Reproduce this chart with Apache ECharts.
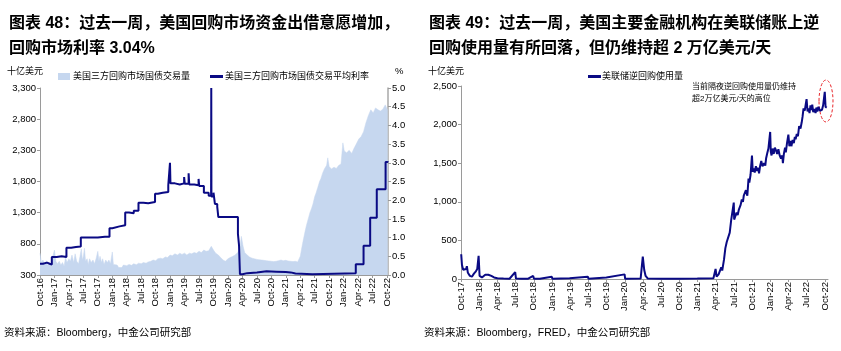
<!DOCTYPE html>
<html>
<head>
<meta charset="utf-8">
<script src="https://cdn.jsdelivr.net/npm/echarts@6/dist/echarts.min.js"></script>
<style>
  html, body { margin: 0; padding: 0; background: #fff; }
  #main { width: 841px; height: 351px; }
</style>
</head>
<body>
<div id="main"></div>
<script>
// 左图：三方回购交易量（十亿美元）
var volume = [
  ['2016-10-01', 650], ['2016-10-10', 500], ['2016-10-20', 540], ['2016-11-01', 470],
  ['2016-11-10', 530], ['2016-11-20', 460], ['2016-12-01', 450], ['2016-12-10', 500],
  ['2016-12-20', 470], ['2017-01-01', 700], ['2017-01-10', 520], ['2017-01-20', 480],
  ['2017-02-01', 520], ['2017-02-10', 460], ['2017-02-20', 500], ['2017-03-01', 440],
  ['2017-03-10', 580], ['2017-03-20', 500], ['2017-04-01', 560], ['2017-04-10', 520],
  ['2017-04-20', 620], ['2017-05-01', 500], ['2017-05-10', 640], ['2017-05-20', 520],
  ['2017-06-01', 480], ['2017-06-10', 600], ['2017-06-18', 720], ['2017-06-25', 540],
  ['2017-07-01', 600], ['2017-07-08', 730], ['2017-07-15', 520], ['2017-07-25', 560],
  ['2017-08-01', 470], ['2017-08-10', 560], ['2017-08-20', 500], ['2017-09-01', 540],
  ['2017-09-10', 480], ['2017-09-20', 560], ['2017-10-01', 680], ['2017-10-08', 520],
  ['2017-10-15', 600], ['2017-10-25', 500], ['2017-11-01', 560], ['2017-11-10', 470],
  ['2017-11-20', 540], ['2017-12-01', 500], ['2017-12-10', 540], ['2017-12-20', 480],
  ['2018-01-01', 670], ['2018-01-08', 470], ['2018-01-20', 440], ['2018-02-01', 460],
  ['2018-02-10', 420], ['2018-02-20', 440], ['2018-03-01', 420], ['2018-03-10', 460],
  ['2018-03-20', 430], ['2018-04-01', 450], ['2018-04-15', 470], ['2018-05-01', 455],
  ['2018-05-15', 480], ['2018-06-01', 465], ['2018-06-15', 490], ['2018-07-01', 480],
  ['2018-07-15', 500], ['2018-08-01', 490], ['2018-08-15', 510], ['2018-09-01', 520],
  ['2018-09-15', 540], ['2018-10-01', 530], ['2018-10-15', 560], ['2018-11-01', 570],
  ['2018-11-15', 560], ['2018-12-01', 590], ['2018-12-15', 580], ['2019-01-01', 620],
  ['2019-01-15', 610], ['2019-02-01', 640], ['2019-02-15', 620], ['2019-03-01', 650],
  ['2019-03-15', 630], ['2019-04-01', 650], ['2019-04-15', 620], ['2019-05-01', 650],
  ['2019-05-15', 640], ['2019-06-01', 660], ['2019-06-15', 650], ['2019-07-01', 680],
  ['2019-07-15', 660], ['2019-08-01', 700], ['2019-08-15', 680], ['2019-09-01', 690],
  ['2019-09-17', 760], ['2019-10-01', 700], ['2019-10-15', 650], ['2019-11-01', 620],
  ['2019-11-15', 580], ['2019-12-01', 540], ['2019-12-15', 520], ['2020-01-01', 560],
  ['2020-01-15', 580], ['2020-02-01', 600], ['2020-02-15', 620], ['2020-03-01', 660],
  ['2020-03-15', 720], ['2020-03-25', 920], ['2020-04-05', 760], ['2020-04-15', 660],
  ['2020-05-01', 620], ['2020-05-15', 590], ['2020-06-01', 570], ['2020-06-15', 560],
  ['2020-07-01', 550], ['2020-07-15', 545], ['2020-08-01', 540], ['2020-08-15', 535],
  ['2020-09-01', 530], ['2020-09-15', 525], ['2020-10-01', 520], ['2020-10-15', 515],
  ['2020-11-01', 520], ['2020-11-15', 530], ['2020-12-01', 540], ['2020-12-15', 530],
  ['2021-01-01', 535], ['2021-01-15', 525], ['2021-02-01', 520], ['2021-02-15', 515],
  ['2021-03-01', 520], ['2021-03-15', 510], ['2021-04-01', 600], ['2021-04-15', 800],
  ['2021-05-01', 1000], ['2021-05-10', 1100], ['2021-05-20', 1080], ['2021-06-01', 1300],
  ['2021-06-10', 1360], ['2021-06-20', 1440], ['2021-07-01', 1560], ['2021-07-10', 1620],
  ['2021-07-20', 1700], ['2021-08-01', 1800], ['2021-08-10', 1850], ['2021-08-20', 1930],
  ['2021-09-01', 2000], ['2021-09-15', 2060], ['2021-09-22', 2180], ['2021-10-01', 2040],
  ['2021-10-15', 2000], ['2021-11-01', 2030], ['2021-11-15', 2010], ['2021-12-01', 2060],
  ['2021-12-15', 2080], ['2021-12-27', 2420], ['2022-01-05', 2290], ['2022-01-20', 2260],
  ['2022-02-05', 2300], ['2022-02-20', 2250], ['2022-03-05', 2330], ['2022-03-20', 2400],
  ['2022-04-05', 2480], ['2022-04-20', 2520], ['2022-05-05', 2600], ['2022-05-20', 2740],
  ['2022-06-05', 2860], ['2022-06-20', 2950], ['2022-07-05', 2900], ['2022-07-20', 2980],
  ['2022-08-05', 2950], ['2022-08-20', 2930], ['2022-09-05', 2960], ['2022-09-20', 3030],
  ['2022-10-05', 2940]
];

// 左图：三方回购平均利率（%）
var rate = [
  ['2016-10-01', 0.30], ['2016-10-20', 0.33], ['2016-11-15', 0.30], ['2016-12-01', 0.28],
  ['2016-12-15', 0.48], ['2017-01-15', 0.50], ['2017-02-15', 0.48], ['2017-03-16', 0.73],
  ['2017-04-15', 0.75], ['2017-05-15', 0.76], ['2017-06-15', 1.00], ['2017-08-01', 1.00],
  ['2017-10-01', 1.02], ['2017-11-15', 1.02], ['2017-12-14', 1.25], ['2018-01-01', 1.30],
  ['2018-02-15', 1.33], ['2018-03-22', 1.67], ['2018-04-15', 1.65], ['2018-05-15', 1.72],
  ['2018-06-14', 1.93], ['2018-07-15', 1.92], ['2018-08-15', 1.95], ['2018-09-27', 2.17],
  ['2018-10-15', 2.20], ['2018-11-15', 2.22], ['2018-12-20', 2.40], ['2018-12-31', 3.00],
  ['2019-01-03', 2.45], ['2019-02-01', 2.42], ['2019-03-01', 2.45], ['2019-03-29', 2.62],
  ['2019-04-02', 2.44], ['2019-04-26', 2.72], ['2019-04-30', 2.42], ['2019-06-01', 2.40],
  ['2019-06-28', 2.57], ['2019-07-02', 2.38], ['2019-08-01', 2.20], ['2019-09-01', 2.12],
  ['2019-09-16', 2.20], ['2019-09-17', 5.00], ['2019-09-18', 2.10], ['2019-10-01', 2.20],
  ['2019-10-10', 1.90], ['2019-10-25', 1.82], ['2019-11-01', 1.55], ['2019-12-31', 1.58],
  ['2020-01-03', 1.55], ['2020-03-03', 1.10], ['2020-03-10', 0.80], ['2020-03-16', 0.02],
  ['2020-04-01', 0.05], ['2020-05-01', 0.07], ['2020-07-01', 0.10], ['2020-09-01', 0.09],
  ['2020-11-01', 0.08], ['2021-01-01', 0.07], ['2021-02-01', 0.04], ['2021-03-01', 0.02],
  ['2021-06-17', 0.05], ['2022-03-17', 0.29], ['2022-05-05', 0.78], ['2022-06-16', 1.53],
  ['2022-07-28', 2.29], ['2022-09-22', 3.02], ['2022-10-05', 3.04]
];

// 右图：美联储隔夜逆回购使用量（十亿美元）
var rrp = [
  ['2017-10-02', 320], ['2017-10-06', 180], ['2017-10-12', 120], ['2017-10-20', 100],
  ['2017-10-27', 130], ['2017-10-31', 165], ['2017-11-05', 80], ['2017-11-15', 40],
  ['2017-11-25', 30], ['2017-12-05', 70], ['2017-12-15', 100], ['2017-12-22', 130],
  ['2017-12-29', 300], ['2018-01-03', 40], ['2018-01-15', 20], ['2018-02-01', 55],
  ['2018-02-15', 55], ['2018-03-01', 40], ['2018-03-15', 20], ['2018-04-01', 10],
  ['2018-05-01', 5], ['2018-06-01', 3], ['2018-06-29', 90], ['2018-07-03', 5],
  ['2018-08-01', 3], ['2018-09-01', 2], ['2018-09-28', 40], ['2018-10-02', 3],
  ['2018-11-01', 2], ['2018-12-31', 30], ['2019-01-03', 2], ['2019-03-29', 10],
  ['2019-04-02', 2], ['2019-06-28', 30], ['2019-07-02', 3], ['2019-09-30', 20],
  ['2019-10-02', 3], ['2019-12-31', 60], ['2020-01-03', 3], ['2020-03-20', 5],
  ['2020-03-31', 290], ['2020-04-07', 120], ['2020-04-14', 40], ['2020-04-25', 5],
  ['2020-06-30', 3], ['2020-09-30', 2], ['2020-12-31', 5], ['2021-03-20', 10],
  ['2021-03-31', 130], ['2021-04-05', 30], ['2021-04-15', 60], ['2021-04-28', 150],
  ['2021-05-03', 110], ['2021-05-12', 250], ['2021-05-19', 400], ['2021-05-26', 480],
  ['2021-06-01', 500], ['2021-06-10', 600], ['2021-06-17', 760], ['2021-06-30', 990],
  ['2021-07-02', 770], ['2021-07-08', 790], ['2021-07-14', 860], ['2021-07-20', 830],
  ['2021-07-26', 900], ['2021-07-30', 920], ['2021-08-04', 960], ['2021-08-10', 1030],
  ['2021-08-16', 1000], ['2021-08-20', 1080], ['2021-08-25', 1060], ['2021-08-31', 1150],
  ['2021-09-07', 1080], ['2021-09-13', 1300], ['2021-09-17', 1250], ['2021-09-23', 1350],
  ['2021-09-30', 1600], ['2021-10-04', 1390], ['2021-10-08', 1430], ['2021-10-14', 1380],
  ['2021-10-20', 1460], ['2021-10-26', 1400], ['2021-11-01', 1440], ['2021-11-05', 1370],
  ['2021-11-10', 1460], ['2021-11-16', 1530], ['2021-11-22', 1460], ['2021-11-30', 1500],
  ['2021-12-06', 1470], ['2021-12-10', 1560], ['2021-12-16', 1630], ['2021-12-22', 1690],
  ['2021-12-31', 1905], ['2022-01-03', 1650], ['2022-01-07', 1600], ['2022-01-12', 1690],
  ['2022-01-18', 1620], ['2022-01-24', 1700], ['2022-01-31', 1660], ['2022-02-04', 1620],
  ['2022-02-10', 1680], ['2022-02-16', 1600], ['2022-02-22', 1560], ['2022-02-28', 1600],
  ['2022-03-03', 1500], ['2022-03-08', 1620], ['2022-03-14', 1700], ['2022-03-18', 1640],
  ['2022-03-24', 1760], ['2022-03-31', 1870], ['2022-04-05', 1720], ['2022-04-11', 1790],
  ['2022-04-15', 1720], ['2022-04-21', 1800], ['2022-04-27', 1760], ['2022-05-02', 1840],
  ['2022-05-06', 1810], ['2022-05-12', 1880], ['2022-05-18', 1850], ['2022-05-24', 1980],
  ['2022-05-31', 1950], ['2022-06-06', 2030], ['2022-06-10', 2100], ['2022-06-15', 2210],
  ['2022-06-21', 2180], ['2022-06-30', 2330], ['2022-07-05', 2170], ['2022-07-11', 2210],
  ['2022-07-15', 2150], ['2022-07-20', 2250], ['2022-07-25', 2190], ['2022-07-29', 2260],
  ['2022-08-03', 2160], ['2022-08-09', 2200], ['2022-08-15', 2150], ['2022-08-19', 2220],
  ['2022-08-24', 2170], ['2022-08-30', 2230], ['2022-09-06', 2180], ['2022-09-12', 2160],
  ['2022-09-16', 2190], ['2022-09-22', 2250], ['2022-09-30', 2425], ['2022-10-04', 2230],
  ['2022-10-10', 2220]
];

var MON = ['Jan', 'Feb', 'Mar', 'Apr', 'May', 'Jun', 'Jul', 'Aug', 'Sep', 'Oct', 'Nov', 'Dec'];
var leftTicks = [], rightTicks = [];
for (var i = 0; i <= 72; i += 3) leftTicks.push(i);
for (var j = 12; j <= 72; j += 3) rightTicks.push(j);

// 日期 -> 自2016年10月起的月份数
function monthIdx(s) {
  var p = s.split('-');
  var y = +p[0], m = +p[1], d = +p[2];
  var dim = new Date(y, m, 0).getDate();
  return (y - 2016) * 12 + (m - 10) + (d - 1) / dim;
}
function toXY(arr) {
  return arr.map(function (r) { return [monthIdx(r[0]), r[1]]; });
}
function monthLabel(v) {
  var t = Math.round(v);
  return MON[(9 + t) % 12] + '-' + (16 + Math.floor((9 + t) / 12));
}
function thousands(v) {
  return String(v).replace(/\B(?=(\d{3})+(?!\d))/g, ',');
}

var FONT = '"Liberation Sans", Arial, "Noto Sans CJK SC", sans-serif';
var NAVY = '#0A0A84';
var AREA = '#C6D7EF';
var AXIS = '#9A9A9A';

var chart = echarts.init(document.getElementById('main'));

function xAxisFor(gridIndex, min, max, ticks) {
  return {
    type: 'value', gridIndex: gridIndex, min: min, max: max,
    splitLine: { show: false },
    axisLine: { lineStyle: { color: AXIS } },
    axisTick: { customValues: ticks, length: 3, lineStyle: { color: AXIS } },
    axisLabel: {
      customValues: ticks, rotate: 90, margin: 3, fontSize: 9.5, color: '#000',
      fontFamily: FONT, formatter: monthLabel
    }
  };
}

var option = {
  animation: false,
  textStyle: { fontFamily: FONT },
  title: [
    {
      left: 4, top: 6,
      text: '图表 48：过去一周，美国回购市场资金出借意愿增加，\n回购市场利率 3.04%',
      textStyle: { fontSize: 16, fontWeight: 'bold', color: '#000', lineHeight: 25, fontFamily: FONT }
    },
    {
      left: 424, top: 6,
      text: '图表 49：过去一周，美国主要金融机构在美联储账上逆\n回购使用量有所回落，但仍维持超 2 万亿美元/天',
      textStyle: { fontSize: 16, fontWeight: 'bold', color: '#000', lineHeight: 25, fontFamily: FONT }
    }
  ],
  legend: [
    {
      left: 53, top: 67, icon: 'rect', itemWidth: 12, itemHeight: 7,
      data: ['美国三方回购市场国债交易量'],
      textStyle: { fontSize: 9, color: '#000', padding: [0, 0, 0, -2] }
    },
    {
      left: 205, top: 67, icon: 'rect', itemWidth: 13, itemHeight: 3,
      data: ['美国三方回购市场国债交易平均利率'],
      textStyle: { fontSize: 9, color: '#000', padding: [0, 0, 0, -3] }
    },
    {
      left: 583, top: 67, icon: 'rect', itemWidth: 13, itemHeight: 3,
      data: ['美联储逆回购使用量'],
      textStyle: { fontSize: 9, color: '#000', padding: [0, 0, 0, -4] }
    }
  ],
  grid: [
    { left: 40, right: 453, top: 88, bottom: 76 },
    { left: 461, right: 13, top: 86, bottom: 72 }
  ],
  xAxis: [
    xAxisFor(0, 0, 72.2, leftTicks),
    xAxisFor(1, 12, 72.5, rightTicks)
  ],
  yAxis: [
    {
      type: 'value', gridIndex: 0, min: 300, max: 3300, interval: 500,
      splitLine: { show: false },
      axisLine: { show: true, lineStyle: { color: AXIS } },
      axisTick: { show: true, length: 3, lineStyle: { color: AXIS } },
      axisLabel: { fontSize: 9.5, color: '#000', margin: 4, formatter: thousands }
    },
    {
      type: 'value', gridIndex: 0, position: 'right', min: 0, max: 5, interval: 0.5,
      splitLine: { show: false },
      axisLine: { show: true, lineStyle: { color: '#A8A8A8', width: 1.5 } },
      axisTick: { show: true, length: 3, lineStyle: { color: AXIS } },
      axisLabel: { fontSize: 9.5, color: '#000', margin: 4, formatter: function (v) { return v.toFixed(1); } }
    },
    {
      type: 'value', gridIndex: 1, min: 0, max: 2500, interval: 500,
      splitLine: { show: false },
      axisLine: { show: true, lineStyle: { color: AXIS } },
      axisTick: { show: true, length: 3, lineStyle: { color: AXIS } },
      axisLabel: { fontSize: 9.5, color: '#000', margin: 4, formatter: thousands }
    }
  ],
  series: [
    {
      name: '美国三方回购市场国债交易量', type: 'line', xAxisIndex: 0, yAxisIndex: 0,
      data: toXY(volume), showSymbol: false, color: AREA,
      lineStyle: { width: 0.5, color: AREA }, areaStyle: { color: AREA, opacity: 1 }
    },
    {
      name: '美国三方回购市场国债交易平均利率', type: 'line', xAxisIndex: 0, yAxisIndex: 1,
      data: toXY(rate), step: 'end', showSymbol: false, color: NAVY,
      lineStyle: { width: 2, color: NAVY }
    },
    {
      name: '美联储逆回购使用量', type: 'line', xAxisIndex: 1, yAxisIndex: 2,
      data: toXY(rrp), showSymbol: false, color: NAVY,
      lineStyle: { width: 2, color: NAVY }
    }
  ],
  graphic: [
    { type: 'text', left: 7, top: 67, style: { text: '十亿美元', fill: '#000', font: '9px ' + FONT } },
    { type: 'text', left: 395, top: 67, style: { text: '%', fill: '#000', font: '9.5px ' + FONT } },
    { type: 'text', left: 428, top: 67, style: { text: '十亿美元', fill: '#000', font: '9px ' + FONT } },
    {
      type: 'text', left: 692, top: 81,
      style: { text: '当前隔夜逆回购使用量仍维持\n超2万亿美元/天的高位', fill: '#000', font: '8px ' + FONT, lineHeight: 12 }
    },
    {
      type: 'ellipse', shape: { cx: 826, cy: 101, rx: 7, ry: 21 },
      style: { fill: 'none', stroke: '#E8262A', lineWidth: 1, lineDash: [3, 2] }
    },
    { type: 'text', left: 4, top: 328, style: { text: '资料来源：Bloomberg，中金公司研究部', fill: '#000', font: '10.5px ' + FONT } },
    { type: 'text', left: 424, top: 328, style: { text: '资料来源：Bloomberg，FRED，中金公司研究部', fill: '#000', font: '10.5px ' + FONT } }
  ]
};

chart.setOption(option);
</script>
</body>
</html>
